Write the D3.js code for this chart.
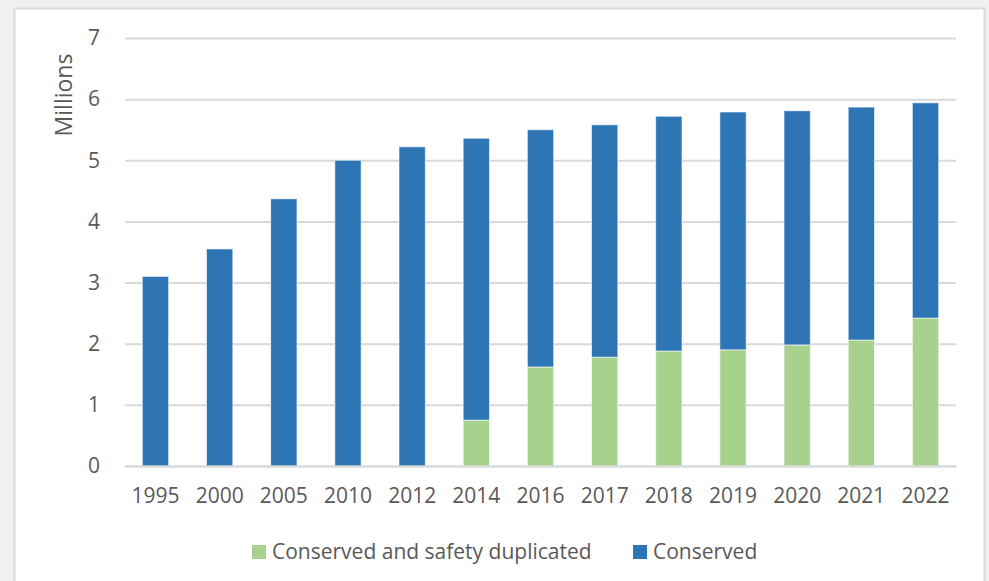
<!DOCTYPE html>
<html>
<head>
<meta charset="utf-8">
<script src="https://cdn.jsdelivr.net/npm/d3@7"></script>
<style>
  html, body { margin: 0; padding: 0; background: #f0f0f0; }
  #chart { position: absolute; left: 0; top: 0; }
  text { font-family: "Open Sans", sans-serif; fill: #595959; }
</style>
</head>
<body>
<div id="chart"></div>
<script>
// data (millions)
var years = ["1995", "2000", "2005", "2010", "2012", "2014", "2016", "2017", "2018", "2019", "2020", "2021", "2022"];
var conservedTotal = [3.10, 3.55, 4.37, 5.00, 5.22, 5.36, 5.50, 5.58, 5.72, 5.79, 5.81, 5.87, 5.94];
var safetyDuplicated = [0, 0, 0, 0, 0, 0.75, 1.62, 1.78, 1.88, 1.90, 1.98, 2.06, 2.42];
var yTicks = [0, 1, 2, 3, 4, 5, 6, 7];
var seriesNames = ["Conserved and safety duplicated", "Conserved"];
var seriesColors = ["#a9d18e", "#2e75b6"];

var width = 989, height = 581;
var margin = {top: 38, right: 33, bottom: 115, left: 125};
var innerW = 956 - margin.left, innerH = 466 - margin.top;

var rows = years.map((y, i) => ({
  year: y,
  dup: safetyDuplicated[i],
  rest: conservedTotal[i] - safetyDuplicated[i]
}));
var stacked = d3.stack().keys(["dup", "rest"])(rows);

var svg = d3.select("#chart").append("svg")
  .attr("width", width)
  .attr("height", height);

// white chart panel with border
svg.append("rect")
  .attr("x", 14.5).attr("y", 8.5)
  .attr("width", 970).attr("height", 580)
  .attr("fill", "#fff")
  .attr("stroke", "#d9d9d9")
  .attr("stroke-width", 2);

var g = svg.append("g")
  .attr("transform", "translate(" + margin.left + "," + margin.top + ")");

var x = d3.scaleBand().domain(years).range([0, innerW]).paddingInner(0.59).paddingOuter(0.27);
var y = d3.scaleLinear().domain([0, 7]).range([innerH, 0]);

// gridlines
g.append("g")
  .attr("class", "grid")
  .call(d3.axisLeft(y).tickValues(yTicks).tickSize(-innerW).tickFormat(""))
  .call(s => s.select(".domain").remove())
  .call(s => s.selectAll(".tick line").attr("stroke", "#d9d9d9").attr("stroke-width", 2));

// y tick labels
g.append("g")
  .call(d3.axisLeft(y).tickValues(yTicks).tickSize(0).tickPadding(25).tickFormat(d3.format("d")))
  .call(s => s.select(".domain").remove())
  .call(s => s.selectAll("text").style("font-size", "21px").attr("fill", "#595959"));

// bars
g.selectAll(".series").data(stacked).enter()
  .append("g")
  .attr("fill", (d, i) => seriesColors[i])
  .selectAll("rect")
  .data(d => d.filter(p => p[1] - p[0] > 0))
  .enter()
  .append("rect")
  .attr("x", d => x(d.data.year))
  .attr("y", d => y(d[1]))
  .attr("width", x.bandwidth())
  .attr("height", d => y(d[0]) - y(d[1]))
  .attr("stroke", "rgba(255,255,255,0.6)")
  .attr("stroke-width", 1);

// x axis
g.append("g")
  .attr("transform", "translate(0," + innerH + ")")
  .call(d3.axisBottom(x).tickSize(0).tickPadding(22))
  .call(s => s.select(".domain").attr("stroke", "#d9d9d9").attr("stroke-width", 2))
  .call(s => s.selectAll("text").style("font-size", "21px").attr("fill", "#595959"));

// y axis title
svg.append("text")
  .attr("transform", "translate(72,95) rotate(-90)")
  .attr("text-anchor", "middle")
  .style("font-size", "23px")
  .text("Millions");

// legend
var legend = svg.append("g").attr("transform", "translate(252,552)");
var legendX = [0, 381];
seriesNames.forEach((name, i) => {
  var item = legend.append("g").attr("transform", "translate(" + legendX[i] + ",0)");
  item.append("rect")
    .attr("x", 0).attr("y", -7)
    .attr("width", 14).attr("height", 14)
    .attr("fill", seriesColors[i]);
  item.append("text")
    .attr("x", 20).attr("dy", "0.35em")
    .style("font-size", "21px")
    .text(name);
});
</script>
</body>
</html>
